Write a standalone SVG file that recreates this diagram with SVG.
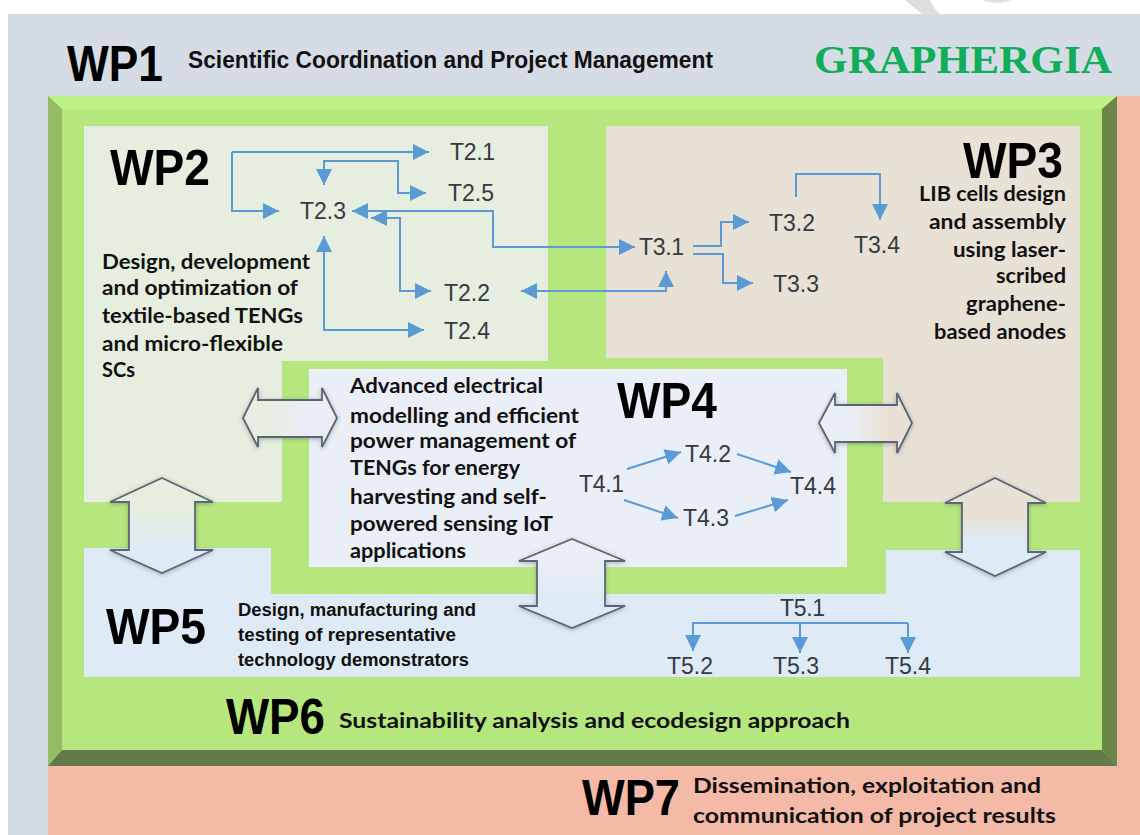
<svg xmlns="http://www.w3.org/2000/svg" width="1140" height="835" viewBox="0 0 1140 835">
<style>
.wp{font-family:"Liberation Sans",Arial,sans-serif;font-weight:700;font-size:50px;fill:#000}
.t{font-family:"Liberation Sans",Arial,sans-serif;font-size:23px;fill:#333a42}
.d{font-family:Lato,"Noto Sans",sans-serif;font-weight:700;font-size:20.5px;fill:#111}
.l{font-size:21.5px}
.s{font-family:"Liberation Sans",Arial,sans-serif;font-weight:700;font-size:18px;fill:#111}
.c{fill:none;stroke:#5b9bd5;stroke-width:2}
.ab{marker-end:url(#h)}
.bb{marker-start:url(#hs);marker-end:url(#h)}
.ba{stroke:#5a6676;stroke-width:1.8;filter:url(#sh)}
</style>
<defs>
<marker id="h" markerUnits="userSpaceOnUse" markerWidth="17" markerHeight="17" refX="16" refY="8" orient="auto"><path d="M0 0L16 8L0 16z" fill="#5b9bd5"/></marker>
<marker id="hs" markerUnits="userSpaceOnUse" markerWidth="17" markerHeight="17" refX="0" refY="8" orient="auto"><path d="M16 0L0 8L16 16z" fill="#5b9bd5"/></marker>
<filter id="sh" x="-20%" y="-20%" width="140%" height="140%"><feDropShadow dx="0" dy="1" stdDeviation="2" flood-color="#333" flood-opacity=".35"/></filter>
<linearGradient id="g1" gradientUnits="userSpaceOnUse" x1="270" y1="0" x2="310" y2="0"><stop offset="0" stop-color="#e6eee0"/><stop offset="1" stop-color="#e9eef7"/></linearGradient>
<linearGradient id="g2" gradientUnits="userSpaceOnUse" x1="850" y1="0" x2="885" y2="0"><stop offset="0" stop-color="#eaeff7"/><stop offset="1" stop-color="#e8e1d6"/></linearGradient>
<linearGradient id="g3" gradientUnits="userSpaceOnUse" x1="0" y1="510" x2="0" y2="550"><stop offset="0" stop-color="#e6eee0"/><stop offset="1" stop-color="#deeaf5"/></linearGradient>
<linearGradient id="g4" gradientUnits="userSpaceOnUse" x1="0" y1="515" x2="0" y2="540"><stop offset="0" stop-color="#e8e1d6"/><stop offset="1" stop-color="#deeaf5"/></linearGradient>
<linearGradient id="g5" gradientUnits="userSpaceOnUse" x1="0" y1="565" x2="0" y2="600"><stop offset="0" stop-color="#e9eef7"/><stop offset="1" stop-color="#deeaf5"/></linearGradient>
</defs>
<rect width="1140" height="835" fill="#fff"/>
<path d="M905 0H930Q933 8 940 14H922zM982 0H1012Q997 6 982 0z" fill="#dedede"/>
<g id="WP1">
<rect x="8" y="14" width="1132" height="821" fill="#d6dce5"/>
<text class="wp" x="67" y="81" textLength="96" lengthAdjust="spacingAndGlyphs">WP1</text>
<text x="188" y="68" font-family="'Liberation Sans',Arial,sans-serif" font-weight="700" font-size="23" fill="#111" textLength="525" lengthAdjust="spacingAndGlyphs">Scientific Coordination and Project Management</text>
<text x="814" y="73" font-family="'Liberation Serif','Times New Roman',serif" font-weight="700" font-size="41" fill="#10ad5a" textLength="298" lengthAdjust="spacingAndGlyphs">GRAPHERGIA</text>
</g>
<g id="WP7">
<path d="M48 766H1117V96H1140V835H48z" fill="#f4b9a7"/>
<text class="wp" x="582" y="815" textLength="98" lengthAdjust="spacingAndGlyphs">WP7</text>
<text class="d l" x="693" y="793" textLength="348" lengthAdjust="spacingAndGlyphs">Dissemination, exploitation and</text>
<text class="d l" x="693" y="823" textLength="363" lengthAdjust="spacingAndGlyphs">communication of project results</text>
</g>
<g id="WP6">
<rect x="48" y="96" width="1069" height="670" fill="#b6e77f"/>
<path d="M48 96H1117L1102 109H62z" fill="#bff286"/>
<path d="M48 96L62 109V750L48 766z" fill="#96bb66"/>
<path d="M1117 96L1102 109V750L1117 766z" fill="#6b8449"/>
<path d="M48 766L62 750H1102L1117 766z" fill="#647a4a"/>
<text class="wp" x="226" y="734" textLength="99" lengthAdjust="spacingAndGlyphs">WP6</text>
<text class="d l" x="339" y="728" textLength="511" lengthAdjust="spacingAndGlyphs">Sustainability analysis and ecodesign approach</text>
</g>
<g id="WP2">
<path d="M84 126H548V361H282V502H84z" fill="#e6eee0"/>
<text class="wp" x="110" y="185" textLength="100" lengthAdjust="spacingAndGlyphs">WP2</text>
<text class="d" x="102" y="269" textLength="208" lengthAdjust="spacingAndGlyphs">Design, development</text>
<text class="d" x="102" y="295" textLength="196" lengthAdjust="spacingAndGlyphs">and optimization of</text>
<text class="d" x="102" y="323" textLength="201" lengthAdjust="spacingAndGlyphs">textile-based TENGs</text>
<text class="d" x="102" y="351" textLength="181" lengthAdjust="spacingAndGlyphs">and micro-flexible</text>
<text class="d" x="102" y="377" textLength="33" lengthAdjust="spacingAndGlyphs">SCs</text>
<text class="t" x="450" y="160" textLength="45">T2.1</text>
<text class="t" x="448" y="201" textLength="46">T2.5</text>
<text class="t" x="300" y="219" textLength="46">T2.3</text>
<text class="t" x="444" y="301" textLength="46">T2.2</text>
<text class="t" x="444" y="339" textLength="46">T2.4</text>
</g>
<g id="WP3">
<path d="M606 126H1080V502H883V358H606z" fill="#e8e1d6"/>
<text class="wp" x="963" y="178" textLength="100" lengthAdjust="spacingAndGlyphs">WP3</text>
<text class="d" x="919" y="201" textLength="147" lengthAdjust="spacingAndGlyphs">LIB cells design</text>
<text class="d" x="929" y="229" textLength="137" lengthAdjust="spacingAndGlyphs">and assembly</text>
<text class="d" x="953" y="257" textLength="113" lengthAdjust="spacingAndGlyphs">using laser-</text>
<text class="d" x="996" y="283" textLength="70" lengthAdjust="spacingAndGlyphs">scribed</text>
<text class="d" x="966" y="311" textLength="100" lengthAdjust="spacingAndGlyphs">graphene-</text>
<text class="d" x="934" y="339" textLength="132" lengthAdjust="spacingAndGlyphs">based anodes</text>
<text class="t" x="639" y="255" textLength="45">T3.1</text>
<text class="t" x="769" y="231" textLength="46">T3.2</text>
<text class="t" x="773" y="292" textLength="46">T3.3</text>
<text class="t" x="854" y="253" textLength="46">T3.4</text>
</g>
<g id="WP5">
<path d="M84 548H271V594H886V550H1080V677H84z" fill="#deeaf5"/>
<text class="wp" x="106" y="644" textLength="100" lengthAdjust="spacingAndGlyphs">WP5</text>
<text class="s" x="238" y="616" textLength="238" lengthAdjust="spacingAndGlyphs">Design, manufacturing and</text>
<text class="s" x="238" y="641" textLength="218" lengthAdjust="spacingAndGlyphs">testing of representative</text>
<text class="s" x="238" y="666" textLength="231" lengthAdjust="spacingAndGlyphs">technology demonstrators</text>
<text class="t" x="780" y="616" textLength="45">T5.1</text>
<text class="t" x="667" y="674" textLength="46">T5.2</text>
<text class="t" x="773" y="674" textLength="46">T5.3</text>
<text class="t" x="885" y="674" textLength="46">T5.4</text>
</g>
<g id="WP4">
<rect x="309" y="369" width="538" height="198" fill="#e9eef7"/>
<text class="wp" x="617" y="418" textLength="100" lengthAdjust="spacingAndGlyphs">WP4</text>
<text class="d" x="350" y="393" textLength="193" lengthAdjust="spacingAndGlyphs">Advanced electrical</text>
<text class="d" x="350" y="423" textLength="229" lengthAdjust="spacingAndGlyphs">modelling and efficient</text>
<text class="d" x="350" y="448" textLength="226" lengthAdjust="spacingAndGlyphs">power management of</text>
<text class="d" x="350" y="475" textLength="170" lengthAdjust="spacingAndGlyphs">TENGs for energy</text>
<text class="d" x="350" y="504" textLength="197" lengthAdjust="spacingAndGlyphs">harvesting and self-</text>
<text class="d" x="350" y="531" textLength="203" lengthAdjust="spacingAndGlyphs">powered sensing IoT</text>
<text class="d" x="350" y="558" textLength="116" lengthAdjust="spacingAndGlyphs">applications</text>
<text class="t" x="579" y="492" textLength="45">T4.1</text>
<text class="t" x="685" y="462" textLength="46">T4.2</text>
<text class="t" x="683" y="526" textLength="46">T4.3</text>
<text class="t" x="790" y="494" textLength="46">T4.4</text>
</g>
<g id="connectors">
<path class="c ab" d="M232 152V211H279"/>
<path class="c ab" d="M232 152H429"/>
<path class="c bb" d="M324 185V161H398V193H426" style="marker-start:url(#hs)"/>
<path class="c bb" d="M352 211H493V247H635"/>
<path class="c bb" d="M371 218H400V291H431"/>
<path class="c bb" d="M324 236V330H424"/>
<path class="c bb" d="M521 291H666V271"/>
<path class="c ab" d="M693 246H721V222H749"/>
<path class="c ab" d="M693 254H723V283H753"/>
<path class="c ab" d="M796 197V174H880V220"/>
<path class="c ab" d="M627 469L681 452"/>
<path class="c ab" d="M737 454L791 472"/>
<path class="c ab" d="M624 500L678 518"/>
<path class="c ab" d="M735 516L788 500"/>
<path class="c" d="M692 623H908"/>
<path class="c ab" d="M693 623V651"/>
<path class="c ab" d="M800 623V653"/>
<path class="c ab" d="M908 623V653"/>
</g>
<g id="block-arrows">
<path class="ba" fill="url(#g1)" d="M243 418L258 388V400H322V388L337 418L322 447V437H258V447z"/>
<path class="ba" fill="url(#g2)" d="M819 423L835 393V405H897V393L912 423L897 453V442H835V453z"/>
<path class="ba" fill="url(#g3)" d="M162 478L213 502H195V550H213L162 573L110 550H129V502H110z"/>
<path class="ba" fill="url(#g4)" d="M995 478L1046 503H1028V552H1046L995 576L945 552H962V503H945z"/>
<path class="ba" fill="url(#g5)" d="M572 539L625 561H605V606H625L572 628L519 606H537V561H519z"/>
</g>
</svg>
